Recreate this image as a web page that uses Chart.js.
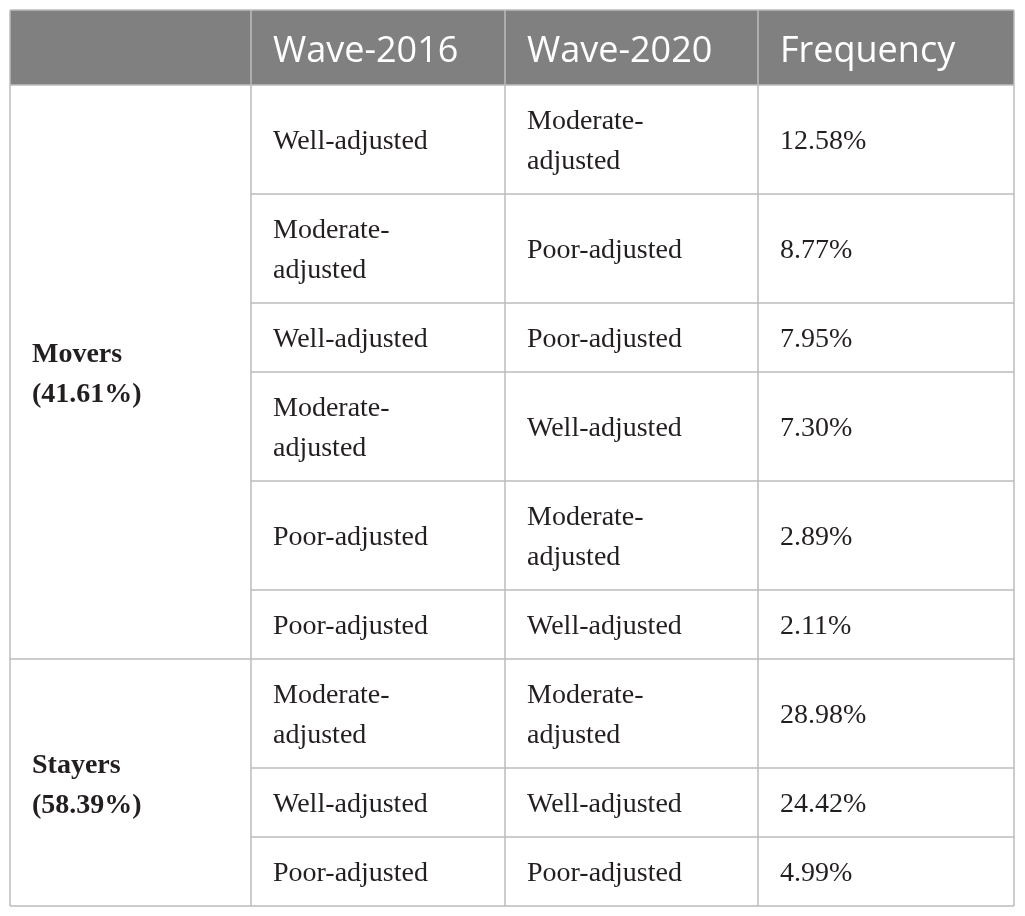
<!DOCTYPE html>
<html>
<head>
<meta charset="utf-8">
<script src="https://cdn.jsdelivr.net/npm/chart.js@4"></script>
<style>
  html, body { margin: 0; padding: 0; background: #fff; }
  canvas { display: block; }
</style>
</head>
<body>
<canvas id="tableChart" width="1025" height="916"></canvas>
<script>
// Table contents
const headers = ['', 'Wave-2016', 'Wave-2020', 'Frequency'];
const groupNames = ['Movers', 'Stayers'];
const groupShares = [41.61, 58.39];
const groupRows = [6, 3];
const wave2016 = ['Well-adjusted', 'Moderate-adjusted', 'Well-adjusted', 'Moderate-adjusted', 'Poor-adjusted',
                  'Poor-adjusted', 'Moderate-adjusted', 'Well-adjusted', 'Poor-adjusted'];
const wave2020 = ['Moderate-adjusted', 'Poor-adjusted', 'Poor-adjusted', 'Well-adjusted', 'Moderate-adjusted',
                  'Well-adjusted', 'Moderate-adjusted', 'Well-adjusted', 'Poor-adjusted'];
const frequency = [12.58, 8.77, 7.95, 7.30, 2.89, 2.11, 28.98, 24.42, 4.99];

// layout (table units)
const colEdges = [0, 241, 495, 748, 1004];
const headerH = 75;
const lineH = 40;
const rowPad = 29;
const cellPad = 22;
const bodyFont = '28px "Liberation Serif"';
const boldFont = 'bold 28px "Liberation Serif"';
const headFont = '36px "Open Sans"';

function wrap(ctx, text, maxW) {
  if (ctx.measureText(text).width <= maxW) return [text];
  const i = text.indexOf('-');
  return i > 0 ? [text.slice(0, i + 1), text.slice(i + 1)] : [text];
}

function build() {
  const mctx = document.createElement('canvas').getContext('2d');
  mctx.font = bodyFont;

  // work out each row's lines and height
  const rows = frequency.map((f, r) => {
    const c1 = wrap(mctx, wave2016[r], 190);
    const c2 = wrap(mctx, wave2020[r], 190);
    const c3 = [f.toFixed(2) + '%'];
    const n = Math.max(c1.length, c2.length, c3.length);
    return { cells: [c1, c2, c3], h: rowPad + lineH * n };
  });
  const yEdges = [headerH];
  rows.forEach(row => yEdges.push(yEdges[yEdges.length - 1] + row.h));
  const total = yEdges[yEdges.length - 1];

  function drawLines(ctx, lines, x, yMid, font, off) {
    ctx.font = font;
    const n = lines.length;
    lines.forEach((t, i) => {
      ctx.fillText(t, x, yMid + off + (i - (n - 1) / 2) * lineH);
    });
  }

  const tablePlugin = {
    id: 'tableCells',
    afterDraw(chart) {
      const ctx = chart.ctx;
      const sx = chart.scales.x, sy = chart.scales.y;
      const X = v => sx.getPixelForValue(v);
      const Y = v => sy.getPixelForValue(v);
      const left = X(colEdges[0]), right = X(colEdges[colEdges.length - 1]);

      ctx.save();
      // header band
      ctx.fillStyle = '#808080';
      ctx.fillRect(left, Y(0), right - left, Y(headerH) - Y(0));
      ctx.fillStyle = '#ffffff';
      ctx.textBaseline = 'alphabetic';
      ctx.textAlign = 'left';
      headers.forEach((h, c) => {
        if (!h) return;
        drawLines(ctx, [h], X(colEdges[c]) + cellPad, (Y(0) + Y(headerH)) / 2, headFont, 14);
      });

      // grid lines
      ctx.strokeStyle = '#bcbcbc';
      ctx.lineWidth = 1.5;
      ctx.beginPath();
      colEdges.forEach(cx => {
        ctx.moveTo(X(cx), Y(0));
        ctx.lineTo(X(cx), Y(total));
      });
      ctx.moveTo(left, Y(0));
      ctx.lineTo(right, Y(0));
      ctx.moveTo(left, Y(headerH));
      ctx.lineTo(right, Y(headerH));
      let g = 0, acc = 0;
      yEdges.slice(1).forEach((ye, r) => {
        acc++;
        let from = X(colEdges[1]);
        if (acc === groupRows[g]) { from = left; g++; acc = 0; }
        ctx.moveTo(from, Y(ye));
        ctx.lineTo(right, Y(ye));
      });
      ctx.stroke();

      // body text
      ctx.fillStyle = '#231f20';
      rows.forEach((row, r) => {
        const mid = (Y(yEdges[r]) + Y(yEdges[r + 1])) / 2;
        row.cells.forEach((lines, c) => {
          drawLines(ctx, lines, X(colEdges[c + 1]) + cellPad, mid, bodyFont, 9);
        });
      });

      // group labels
      let start = 0;
      groupNames.forEach((name, gi) => {
        const end = start + groupRows[gi];
        const mid = (Y(yEdges[start]) + Y(yEdges[end])) / 2;
        drawLines(ctx, [name, '(' + groupShares[gi].toFixed(2) + '%)'],
                  X(colEdges[0]) + cellPad, mid, boldFont, 10);
        start = end;
      });
      ctx.restore();
    }
  };

  new Chart(document.getElementById('tableChart'), {
    type: 'scatter',
    data: { datasets: [] },
    options: {
      responsive: false,
      animation: false,
      devicePixelRatio: 1,
      layout: { padding: { left: 10, top: 10, right: 11, bottom: 10 } },
      plugins: { legend: { display: false }, tooltip: { enabled: false } },
      scales: {
        x: { type: 'linear', min: 0, max: colEdges[colEdges.length - 1], display: false },
        y: { type: 'linear', min: 0, max: total, reverse: true, display: false }
      }
    },
    plugins: [tablePlugin]
  });
}

Promise.all([
  document.fonts.load(bodyFont),
  document.fonts.load(boldFont),
  document.fonts.load(headFont)
]).then(build, build);
</script>
</body>
</html>
